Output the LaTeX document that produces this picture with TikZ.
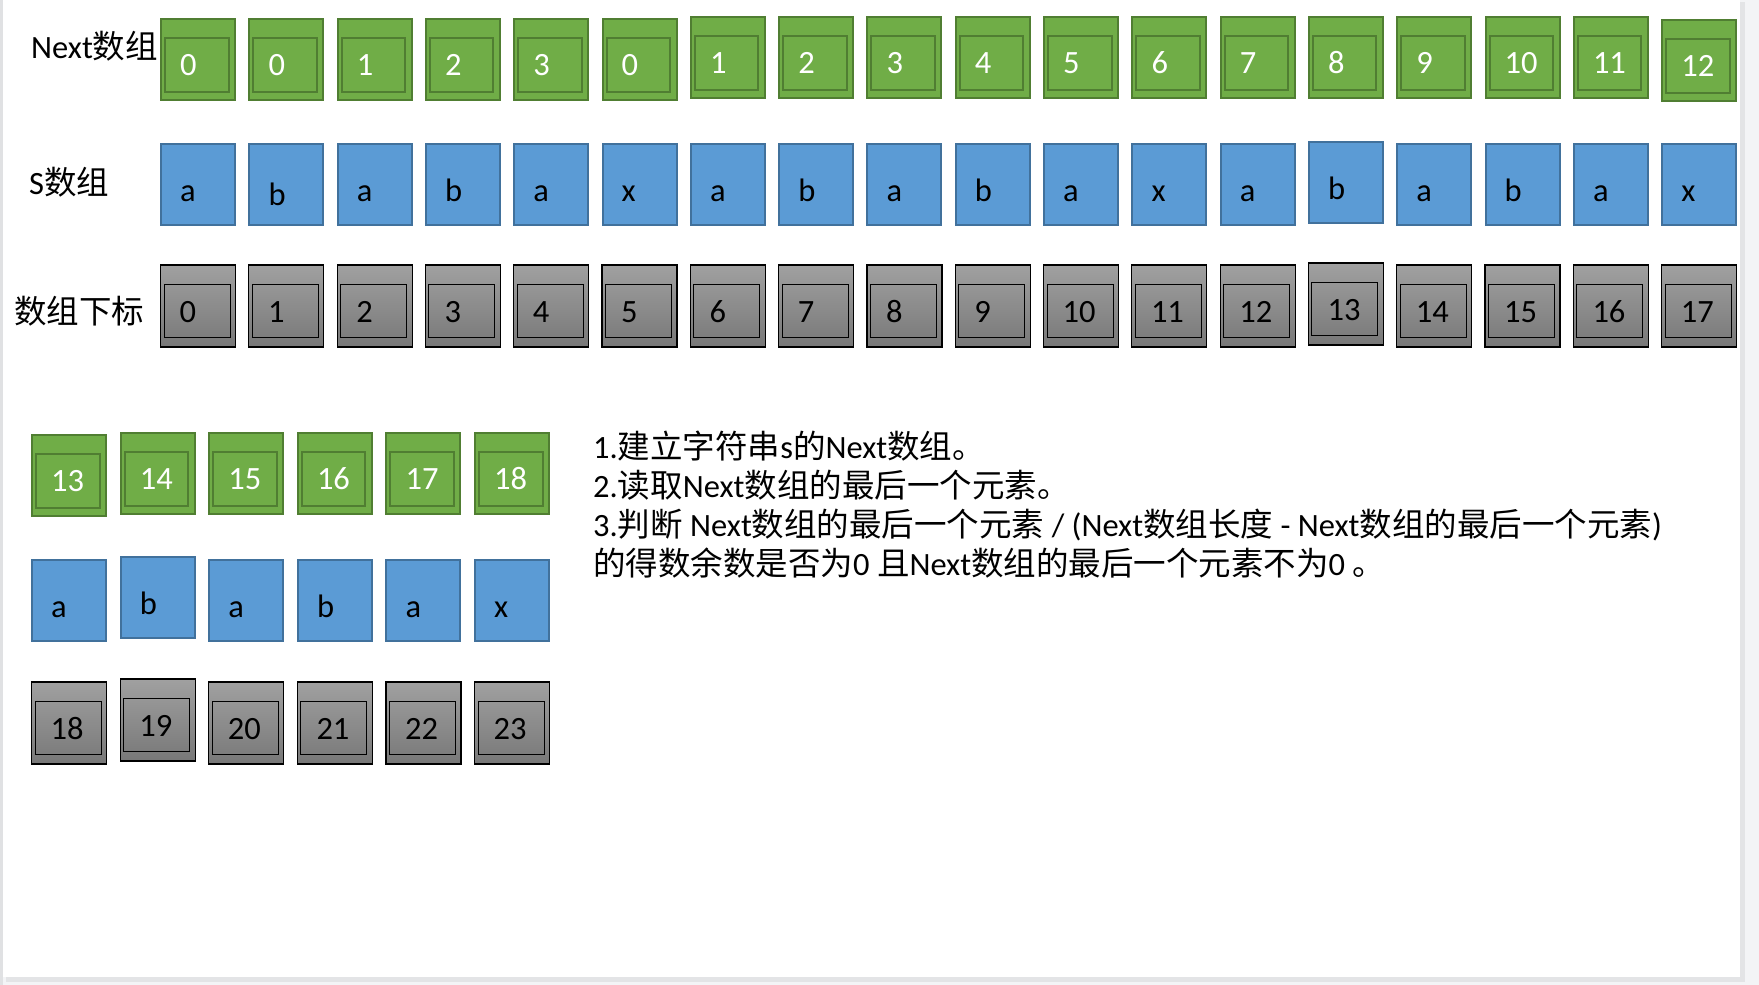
\documentclass[tikz,border=0pt]{standalone}
\usepackage{fontspec}
\setmainfont{Carlito}
\newfontfamily\cjk{Noto Sans CJK SC}
\newcommand\bigf{\fontsize{32.5pt}{39pt}\selectfont}
\definecolor{outerbg}{HTML}{F3F4F6}
\definecolor{shadowc}{HTML}{E3E4E6}
\definecolor{stripc}{HTML}{E0E1E3}
\definecolor{gfill}{HTML}{70AD47}
\definecolor{gborder}{HTML}{507E32}
\definecolor{bfill}{HTML}{5B9BD5}
\definecolor{bborder}{HTML}{41719C}
\definecolor{graytop}{HTML}{A0A0A0}
\definecolor{graybot}{HTML}{787878}
\newcommand\boxcell[6]{%
  \node[#2] (#1) at (#3,#4) {};
  \node[celltext,#6] (#1t) at ([xshift=19pt,yshift=25pt]#1.south west) {#5};
}
\begin{document}
\begin{tikzpicture}[x=1pt,y=-1pt,
  cellbase/.style={anchor=north west, inner sep=0pt, outer sep=0pt},
  greenbox/.style={cellbase, draw=gborder, line width=2pt, fill=gfill,
    minimum width=74pt, minimum height=81pt,
    path picture={\draw[gborder,line width=2pt]
      ([xshift=4pt,yshift=-19pt]path picture bounding box.north west) rectangle
      ([xshift=-6.5pt,yshift=8.5pt]path picture bounding box.south east);}},
  bluebox/.style={cellbase, draw=bborder, line width=2pt, fill=bfill,
    minimum width=74pt, minimum height=81pt},
  graybox/.style={cellbase, draw=black, line width=1.2pt,
    top color=graytop, bottom color=graybot,
    minimum width=75pt, minimum height=82pt,
    path picture={\draw[black,line width=1pt]
      ([xshift=3.5pt,yshift=-19.5pt]path picture bounding box.north west) rectangle
      ([xshift=-5.5pt,yshift=9.5pt]path picture bounding box.south east);}},
  celltext/.style={anchor=base west, inner sep=0pt, font=\bigf},
  wtext/.style={text=white},
  ktext/.style={text=black},
  rowlabel/.style={anchor=base west, inner sep=0pt, font=\bigf, text=black},
  desc/.style={anchor=base west, inner sep=0pt, font=\bigf, text=black}
]
\useasboundingbox (0,0) rectangle (1759,985);
% page background
\fill[outerbg] (0,0) rectangle (1759,985);
\fill[shadowc] (6,2) rectangle (1745,982);
\fill[white] (3,0) rectangle (1740,977);
\fill[stripc] (0,0) rectangle (3,985);

% row labels
\node[rowlabel] (lnext) at (31,58) {Next{\cjk 数组}};
\node[rowlabel] (ls) at (29,194) {S{\cjk 数组}};
\node[rowlabel] (lidx) at (14,323) {{\cjk 数组下标}};

% Next array (top)
\foreach \v [count=\i from 0] in {0,0,1,2,3,0,1,2,3,4,5,6,7,8,9,10,11,12} {
  \pgfmathsetmacro\xx{161+88.3*\i}
  \pgfmathsetmacro\yy{\i<6 ? 19 : (\i==17 ? 20 : 17)}
  \boxcell{n\i}{greenbox}{\xx}{\yy}{\v}{wtext}
}
% S array (top)
\foreach \v [count=\i from 0] in {a,b,a,b,a,x,a,b,a,b,a,x,a,b,a,b,a,x} {
  \pgfmathsetmacro\xx{161+88.3*\i}
  \pgfmathsetmacro\yy{\i==13 ? 142 : 144}
  \pgfmathsetmacro\ys{\i==1 ? -5 : -1}
  \boxcell{s\i}{bluebox}{\xx}{\yy}{\v}{ktext,yshift=\ys pt}
}
% index array (top)
\foreach \v [count=\i from 0] in {0,...,17} {
  \pgfmathsetmacro\xx{160.5+88.3*\i}
  \pgfmathsetmacro\yy{\i==13 ? 263 : 265}
  \boxcell{g\i}{graybox}{\xx}{\yy}{\v}{ktext}
}

% bottom part
\foreach \v [count=\i from 0] in {13,14,15,16,17,18} {
  \pgfmathsetmacro\xx{32+88.6*\i}
  \pgfmathsetmacro\yy{\i==0 ? 435 : 433}
  \boxcell{bn\i}{greenbox}{\xx}{\yy}{\v}{wtext}
}
\foreach \v [count=\i from 0] in {a,b,a,b,a,x} {
  \pgfmathsetmacro\xx{32+88.6*\i}
  \pgfmathsetmacro\yy{\i==1 ? 557 : 560}
  \boxcell{bs\i}{bluebox}{\xx}{\yy}{\v}{ktext,yshift=-1pt}
}
\foreach \v [count=\i from 0] in {18,19,20,21,22,23} {
  \pgfmathsetmacro\xx{31.5+88.6*\i}
  \pgfmathsetmacro\yy{\i==1 ? 679 : 682}
  \boxcell{bg\i}{graybox}{\xx}{\yy}{\v}{ktext}
}

% description
\node[desc] (t1) at (593,458) {1.{\cjk 建立字符串}s{\cjk 的}Next{\cjk 数组。}};
\node[desc] (t2) at (593,497) {2.{\cjk 读取}Next{\cjk 数组的最后一个元素。}};
\node[desc] (t3) at (593,536) {3.{\cjk 判断} Next{\cjk 数组的最后一个元素} / (Next{\cjk 数组长度} - Next{\cjk 数组的最后一个元素})};
\node[desc] (t4) at (593,575) {{\cjk 的得数余数是否为}0 {\cjk 且}Next{\cjk 数组的最后一个元素不为}0 {\cjk 。}};
\end{tikzpicture}
\end{document}
